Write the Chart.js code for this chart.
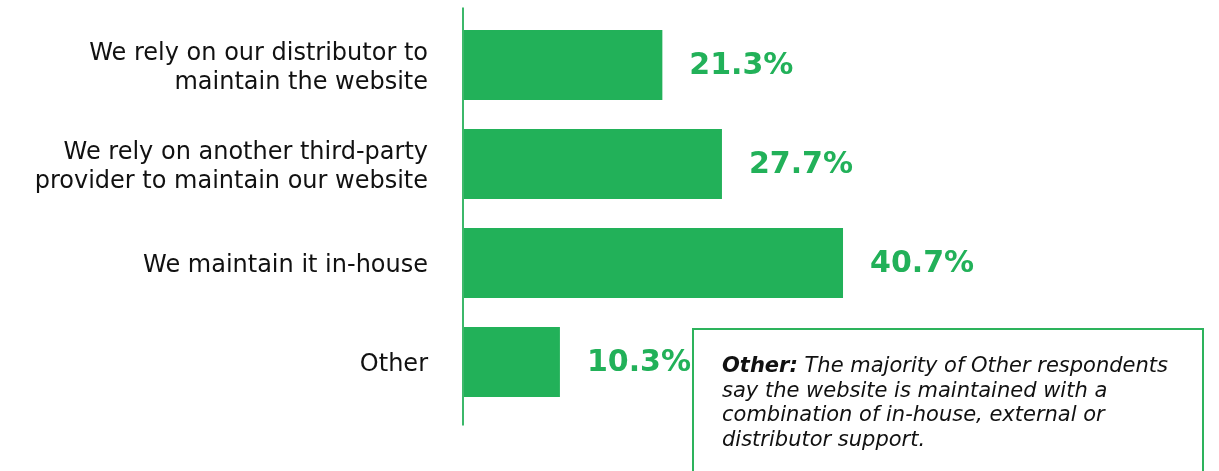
<!DOCTYPE html>
<html>
<head>
<meta charset="utf-8">
<script src="https://cdn.jsdelivr.net/npm/chart.js@4/dist/chart.umd.min.js"></script>
<style>
  html, body { margin: 0; padding: 0; background: #fff; }
  #wrap { position: relative; width: 1219px; height: 471px; overflow: hidden; }
  #note {
    position: absolute; left: 692px; top: 328px; width: 512px; height: 160px;
    border: 2px solid #2db35c; box-sizing: border-box;
    padding: 23px 0 0 28px;
    font-family: "DejaVu Sans", sans-serif; font-style: italic; font-size: 21px;
    line-height: 24.7px; color: #111; white-space: nowrap;
  }
</style>
</head>
<body>
<div id="wrap">
  <canvas id="chart" width="1219" height="471"></canvas>
  <div id="note"><b>Other:</b> The majority of Other respondents<br>say the website is maintained with a<br>combination of in-house, external or<br>distributor support.</div>
</div>
<script>
// Categorias e valores
var categories = [
  ['We rely on our distributor to', 'maintain the website'],
  ['We rely on another third-party', 'provider to maintain our website'],
  'We maintain it in-house',
  'Other'
]
var shares = [21.3, 27.7, 40.7, 10.3]

var green = '#22b159'

// Rótulos de valor ao lado de cada barra + linha do eixo
var valueLabels = {
  id: 'valueLabels',
  afterDatasetsDraw: function(chart) {
    var ctx = chart.ctx
    var meta = chart.getDatasetMeta(0)
    ctx.save()
    ctx.font = 'bold 30px "DejaVu Sans", sans-serif'
    ctx.fillStyle = green
    ctx.textBaseline = 'middle'
    ctx.textAlign = 'left'
    meta.data.forEach(function(bar, i) {
      ctx.fillText(shares[i].toFixed(1) + '%', bar.x + 27, bar.y + 1)
    })
    // eixo vertical um pouco mais longo que a área do gráfico
    var area = chart.chartArea
    ctx.strokeStyle = '#3cb86a'
    ctx.lineWidth = 2
    ctx.beginPath()
    ctx.moveTo(area.left - 1, area.top - 8)
    ctx.lineTo(area.left - 1, area.bottom + 14)
    ctx.stroke()
    ctx.restore()
  }
}

var chart = new Chart(document.getElementById('chart'), {
  type: 'bar',
  data: {
    labels: categories,
    datasets: [
      {
        data: shares,
        backgroundColor: green,
        borderWidth: 0,
        categoryPercentage: 1,
        barPercentage: 0.707
      }
    ]
  },
  options: {
    indexAxis: 'y',
    responsive: false,
    animation: false,
    layout: {
      padding: { left: 0, right: 10, top: 15.5, bottom: 59.5 }
    },
    plugins: {
      legend: { display: false },
      tooltip: { enabled: false }
    },
    scales: {
      x: {
        display: false,
        min: 0,
        max: 80
      },
      y: {
        grid: { display: false, drawTicks: false },
        border: { display: false },
        afterFit: function(scale) {
          scale.width = 464
          scale.paddingTop = 0
          scale.paddingBottom = 0
        },
        ticks: {
          padding: 36,
          labelOffset: 3,
          color: '#111',
          font: { family: '"DejaVu Sans", sans-serif', size: 24, lineHeight: 1.2 }
        }
      }
    }
  },
  plugins: [valueLabels]
})
</script>
</body>
</html>
